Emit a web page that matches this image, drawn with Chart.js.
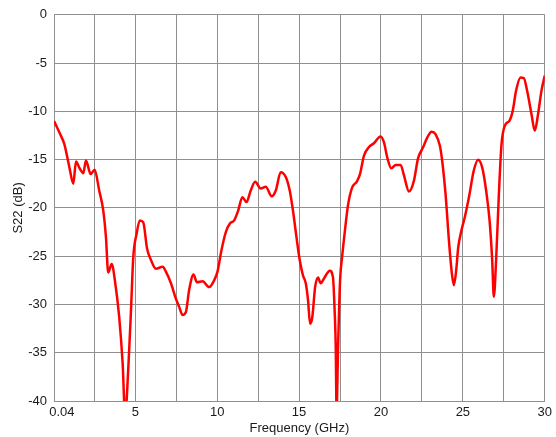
<!DOCTYPE html>
<html>
<head>
<meta charset="utf-8">
<script src="https://cdn.jsdelivr.net/npm/chart.js@4/dist/chart.umd.min.js"></script>
<style>
  html, body { margin: 0; padding: 0; background: #fff; }
  canvas { display: block; }
</style>
</head>
<body>
<canvas id="s22Canvas" width="556" height="437"></canvas>
<script>
const freqGHz = [
  0.04, 0.37, 0.67, 0.98, 1.22, 1.38, 1.59, 1.83, 1.99, 2.28, 2.52, 2.8, 3.05, 3.21, 3.35, 3.56, 3.78,
  4.02, 4.23, 4.38, 4.59, 4.74, 4.88, 5.08, 5.28, 5.49, 5.72, 5.96, 6.26, 6.67, 6.87, 7.18, 7.48, 7.68,
  7.89, 8.09, 8.29, 8.56, 8.76, 9.11, 9.51, 9.82, 10.02, 10.26, 10.53, 10.79, 11.04, 11.28, 11.54, 11.79,
  12.05, 12.32, 12.66, 12.97, 13.33, 13.58, 13.88, 14.19, 14.43, 14.63, 14.84, 15.04, 15.24, 15.41, 15.55,
  15.67, 15.81, 15.98, 16.16, 16.32, 16.46, 16.63, 16.87, 17.07, 17.18, 17.24, 17.29, 17.38, 17.5, 17.64,
  17.79, 17.99, 18.25, 18.52, 18.72, 18.96, 19.27, 19.57, 19.98, 20.18, 20.38, 20.63, 20.9, 21.2, 21.4,
  21.71, 22.01, 22.26, 22.58, 22.83, 23.09, 23.33, 23.6, 23.75, 23.94, 24.15, 24.31, 24.45, 24.59, 24.72,
  24.92, 25.12, 25.37, 25.67, 25.93, 26.18, 26.42, 26.63, 26.79, 26.89, 27.03, 27.2, 27.36, 27.56, 27.85,
  28.05, 28.25, 28.52, 28.72, 28.92, 29.19, 29.39, 29.59, 29.8, 30.0
]
const s22dB = [
  -11.0, -12.2, -13.4, -15.8, -17.5, -15.2, -15.85, -16.4, -15.1, -16.5, -16.05, -18.2, -20.3, -23.0, -26.7, -25.8, -27.8,
  -31.3, -36.1, -41.5, -36.1, -30.6, -25.1, -22.7, -21.3, -21.5, -24.2, -25.4, -26.3, -26.1, -26.6, -27.8, -29.4, -30.25,
  -31.1, -30.8, -28.5, -26.9, -27.7, -27.6, -28.2, -27.5, -26.6, -24.4, -22.5, -21.6, -21.3, -20.3, -18.9, -19.4,
  -18.2, -17.3, -18.0, -17.8, -18.8, -18.2, -16.3, -16.8, -18.2, -20.3, -23.0, -25.4, -27.0, -27.8, -29.6,
  -32.0, -31.3, -28.2, -27.2, -27.8, -27.5, -27.0, -26.5, -27.2, -31.0, -34.4, -41.0, -34.6, -27.7, -24.9,
  -22.5, -19.7, -17.85, -17.3, -16.5, -14.6, -13.7, -13.3, -12.6, -13.2, -14.75, -15.9, -15.55, -15.55, -16.6,
  -18.3, -17.2, -14.9, -13.7, -12.7, -12.1, -12.35, -13.6, -15.3, -18.5, -23.4, -26.5, -28.0, -26.5, -24.05,
  -22.3, -20.95, -18.9, -16.1, -15.0, -15.8, -18.2, -21.3, -25.4, -29.2, -25.4, -18.5, -13.4, -11.5, -10.95,
  -9.9, -7.85, -6.5, -6.55, -7.85, -10.3, -12.0, -10.3, -7.85, -6.3
]

// x grid every 2.5 GHz, labels only on every other line
const xTickValues = [0.04, 2.5, 5, 7.5, 10, 12.5, 15, 17.5, 20, 22.5, 25, 27.5, 30]
// first label sits a little right of its line in the original, hence the leading spaces
const xTickLabels = ['\u2003\u20090.04', '', '5', '', '10', '', '15', '', '20', '', '25', '', '30']

const fonte = { family: 'Liberation Sans, Arial, sans-serif', size: 13 }
const corGrade = '#8f8f8f'

const pontos = freqGHz.map((f, i) => ({ x: f, y: s22dB[i] }))

new Chart(document.getElementById('s22Canvas'), {
  type: 'line',
  data: {
    datasets: [{
      label: 'S22',
      data: pontos,
      borderColor: '#ff0000',
      borderWidth: 2.5,
      pointRadius: 0,
      cubicInterpolationMode: 'monotone',
      fill: false
    }]
  },
  options: {
    responsive: false,
    animation: false,
    layout: { padding: { top: 14, right: 10, left: 0, bottom: 0 } },
    plugins: {
      legend: { display: false },
      tooltip: { enabled: false }
    },
    scales: {
      x: {
        type: 'linear',
        min: 0.04,
        max: 30,
        afterBuildTicks: function (scale) {
          scale.ticks = xTickValues.map(v => ({ value: v }))
        },
        afterFit: function (scale) { scale.height = 36 },
        ticks: {
          color: '#1a1a1a',
          font: fonte,
          padding: 4,
          maxRotation: 0,
          autoSkip: false,
          callback: function (value, index) { return xTickLabels[index] }
        },
        grid: { color: corGrade, lineWidth: 1, drawTicks: false },
        border: { color: corGrade, width: 1 },
        title: {
          display: true,
          text: 'Frequency (GHz)',
          color: '#1a1a1a',
          font: fonte,
          padding: 1
        }
      },
      y: {
        min: -40,
        max: 0,
        afterFit: function (scale) { scale.width = 54 },
        ticks: {
          stepSize: 5,
          color: '#1a1a1a',
          font: fonte,
          padding: 7
        },
        grid: { color: corGrade, lineWidth: 1, drawTicks: false },
        border: { color: corGrade, width: 1 },
        title: {
          display: true,
          text: 'S22 (dB)',
          color: '#1a1a1a',
          font: fonte,
          padding: 11
        }
      }
    }
  }
})
</script>
</body>
</html>
